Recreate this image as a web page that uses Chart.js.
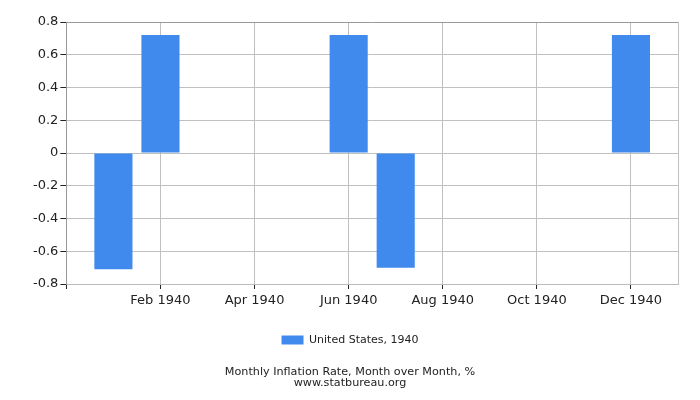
<!DOCTYPE html>
<html>
<head>
<meta charset="utf-8">
<script src="https://cdn.jsdelivr.net/npm/chart.js@4.4.1/dist/chart.umd.min.js"></script>
<style>
  body { margin: 0; background: #fff; }
  #wrap { width: 700px; height: 400px; }
</style>
</head>
<body>
<div id="wrap"><canvas id="inflationChart" width="700" height="400"></canvas></div>
<script>
// Monthly values (%)
const months = ['Jan 1940', 'Feb 1940', 'Mar 1940', 'Apr 1940', 'May 1940', 'Jun 1940',
                'Jul 1940', 'Aug 1940', 'Sep 1940', 'Oct 1940', 'Nov 1940', 'Dec 1940'];
const values = [-0.71, 0.72, 0, 0, 0, 0.72, -0.70, 0, 0, 0, 0, 0.72];
const shownMonths = ['Feb 1940', 'Apr 1940', 'Jun 1940', 'Aug 1940', 'Oct 1940', 'Dec 1940'];
const yTicks = [-0.8, -0.6, -0.4, -0.2, 0, 0.2, 0.4, 0.6, 0.8];

// one empty slot on each side, like the original axis
const labels = [''].concat(months, ['']);
const series = [null].concat(values, [null]);

Chart.defaults.font.family = '"DejaVu Sans", Verdana, sans-serif';
Chart.defaults.color = '#222';

const ctx = document.getElementById('inflationChart');
new Chart(ctx, {
    type: 'bar',
    data: {
        labels: labels,
        datasets: [{
            label: 'United States, 1940',
            data: series,
            backgroundColor: '#418aed',
            borderWidth: 0,
            categoryPercentage: 1,
            barPercentage: 0.81
        }]
    },
    options: {
        responsive: false,
        animation: false,
        // equal side padding so legend and title are centred on the canvas
        layout: { padding: { left: 22, right: 22, top: 22, bottom: 0 } },
        plugins: {
            legend: {
                position: 'bottom',
                labels: { boxWidth: 22, boxHeight: 9, font: { size: 11 }, padding: 14 }
            },
            title: {
                display: true,
                position: 'bottom',
                text: ['Monthly Inflation Rate, Month over Month, %', 'www.statbureau.org'],
                font: { size: 11.2, weight: 'normal', lineHeight: 1 },
                padding: { top: 11, bottom: 11 }
            },
            tooltip: { enabled: false }
        },
        scales: {
            x: {
                offset: false,
                border: { color: '#bbb' },
                afterFit: axis => { axis.height += 8; },
                grid: {
                    offset: false,
                    color: c => (c.index % 2 === 0 || c.index === labels.length - 1) ? '#c0c0c0' : 'rgba(0,0,0,0)',
                    tickColor: c => (c.index % 2 === 0 && c.index < labels.length - 1) ? '#222' : 'rgba(0,0,0,0)',
                    tickLength: 5
                },
                ticks: {
                    autoSkip: false,
                    maxRotation: 0,
                    font: { size: 13 },
                    padding: 4,
                    callback: function (v, i) {
                        const l = labels[i];
                        return shownMonths.includes(l) ? l : '';
                    }
                }
            },
            y: {
                min: yTicks[0],
                max: yTicks[yTicks.length - 1],
                afterBuildTicks: axis => { axis.ticks = yTicks.map(v => ({ value: v })); },
                afterFit: axis => { axis.width += 9; },
                border: { color: '#999' },
                grid: {
                    color: c => c.tick && c.tick.value === yTicks[yTicks.length - 1] ? '#999' : '#c0c0c0',
                    tickColor: '#222',
                    tickLength: 6
                },
                ticks: {
                    font: { size: 13 },
                    padding: 2,
                    callback: v => Math.abs(v) < 1e-9 ? '0' : v.toFixed(1)
                }
            }
        }
    }
});
</script>
</body>
</html>
